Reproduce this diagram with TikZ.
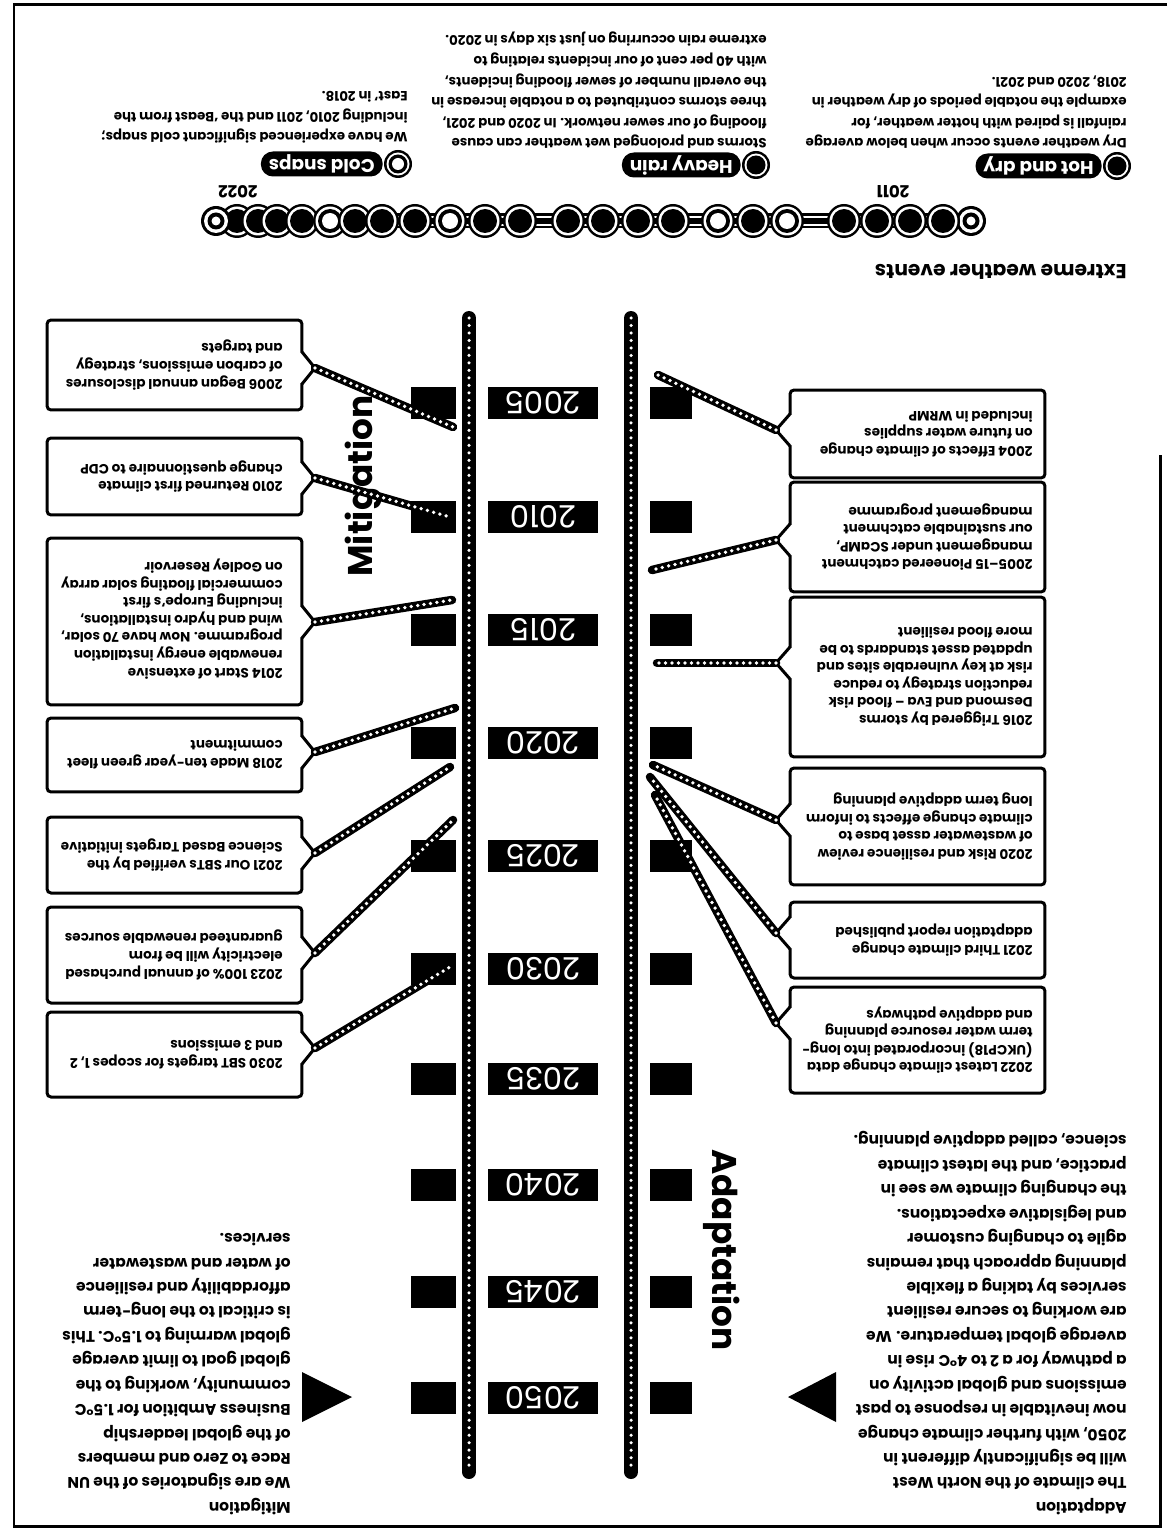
\documentclass[tikz,border=0pt]{standalone}
\usepackage{fontspec}
\setmainfont{Poppins}
\newcommand{\boxfnt}{\fontsize{7.7}{10.0}\selectfont\bfseries}
\newcommand{\topfnt}{\fontsize{7.6}{11.7}\selectfont\bfseries}
\newcommand{\parfnt}{\fontsize{8.8}{13.9}\selectfont\bfseries}
\tikzset{
  upsd/.style={rotate=180},
  rail/.style={line width=0.28cm, line cap=round},
  raildot/.style={line width=0.07cm, line cap=round, white, dash pattern=on 0pt off 0.15cm},
  chain/.style={line width=0.17cm, line cap=round},
  chaindot/.style={line width=0.075cm, line cap=round, white, dash pattern=on 0pt off 0.13cm},
  yearbox/.style={fill=black, text=white, rotate=180, minimum width=2.2cm, minimum height=0.64cm, inner sep=0pt, font=\fontsize{17.5}{17.5}\selectfont},
  sqr/.style={fill=black, inner sep=0pt, minimum height=0.64cm},
  frm/.style={draw, line width=0.06cm, rounded corners=0.08cm, inner sep=0pt, minimum width=5.1cm},
  btxt/.style={rotate=180, align=left, inner sep=0pt, anchor=west, font=\boxfnt},
  boxline/.style={line width=0.06cm, line join=round},
  para/.style={rotate=180, align=left, inner sep=0pt, anchor=north west},
  pill/.style={fill=black, text=white, rounded corners=0.24cm, rotate=180, inner xsep=0.16cm, inner ysep=0pt, minimum height=0.5cm, font=\fontsize{10.5}{10.5}\selectfont\bfseries},
  bigw/.style={font=\fontsize{19.5}{19.5}\selectfont\bfseries, inner sep=0pt},
  lbl/.style={rotate=180, inner sep=0pt, font=\fontsize{9.5}{9.5}\selectfont\bfseries},
}
\newcommand{\evF}[1]{\fill[black] (#1,221) circle (17); \fill[white] (#1,221) circle (14.5); \fill[black] (#1,221) circle (12);}
\newcommand{\evW}[1]{\fill[black] (#1,221) circle (17); \fill[white] (#1,221) circle (14.5); \fill[black] (#1,221) circle (12); \fill[white] (#1,221) circle (8);}
\newcommand{\evEnd}[1]{\fill[black] (#1,221) circle (15); \fill[white] (#1,221) circle (12); \fill[black] (#1,221) circle (8.5); \fill[white] (#1,221) circle (4.5);}
\newcommand{\ptr}[4]{%
  \fill[white] (#2,#4-15) -- (#1,#4-15) -- (#3,#4) -- (#1,#4+15) -- (#2,#4+15) -- cycle;
  \draw[boxline] (#1,#4-16) -- (#3,#4) -- (#1,#4+16);}
\newcommand{\chainln}[2]{\draw[chain] (#1) -- (#2); \draw[chaindot] (#1) -- (#2);}
\begin{document}
\begin{tikzpicture}[x=0.02cm, y=-0.02cm]
\useasboundingbox (0,0) rectangle (1167,1530);
\fill[white] (0,0) rectangle (1167,1530);
% frame
\draw[line width=0.06cm] (1167,5) -- (14,5) -- (14,1526) -- (1160,1526) -- (1160,455);

% ---------- extreme weather events ----------
\node[upsd, anchor=west, inner sep=0pt, font=\fontsize{11.5}{11.5}\selectfont\bfseries] (ewe) at (1127,272) {Extreme weather events};
\coordinate (tlL) at (216,221);
\coordinate (tlR) at (971,221);
\draw[line width=0.30cm, line cap=round] (tlL) -- (tlR);
\draw[line width=0.20cm, white] (tlL) -- (tlR);
\draw[line width=0.12cm] (tlL) -- (tlR);
\evEnd{971}
\evF{943}\evF{910}\evF{877}\evF{844}
\evW{787}\evF{753}\evW{718}
\evF{673}\evF{638}\evF{603}\evF{568}
\evF{237}\evF{258}\evF{277}\evF{302}\evW{330}\evF{355}\evF{382}\evF{415}\evW{450}\evF{485}\evF{520}
\evEnd{216}
\node[lbl] (y2011) at (893,192) {2011};
\node[lbl] (y2022) at (238,192) {2022};

% legend
\fill[black] (1117,166) circle (14); \fill[white] (1117,166) circle (11.5); \fill[black] (1117,166) circle (9.5);
\node[pill, anchor=west] (hd) at (1102,166) {Hot and dry};
\fill[black] (756,165) circle (14); \fill[white] (756,165) circle (11.5); \fill[black] (756,165) circle (9.5);
\node[pill, anchor=west] (hr) at (741,165) {Heavy rain};
\fill[black] (398,164) circle (14); \fill[white] (398,164) circle (11.5); \fill[black] (398,164) circle (9.5); \fill[white] (398,164) circle (6);
\node[pill, anchor=west] (cs) at (383,164) {Cold snaps};

\node[para, font=\topfnt] (hdp) at (1127,149) {Dry weather events occur when below average\\rainfall is paired with hotter weather, for\\example the notable periods of dry weather in\\2018, 2020 and 2021.};
\node[para, font=\topfnt] (hrp) at (767,149) {Storms and prolonged wet weather can cause\\flooding of our sewer network. In 2020 and 2021,\\three storms contributed to a notable increase in\\the overall number of sewer flooding incidents,\\with 40 per cent of our incidents relating to\\extreme rain occurring on just six days in 2020.};
\node[para, font=\topfnt] (csp) at (408,144) {We have experienced significant cold snaps;\\including 2010, 2011 and the ‘Beast from the\\East’ in 2018.};

% ---------- track ----------
\coordinate (lrT) at (469,318); \coordinate (lrB) at (469,1472);
\coordinate (rrT) at (631,318); \coordinate (rrB) at (631,1472);
\draw[rail] (lrT) -- (lrB); \draw[raildot] (lrT) -- (lrB);
\draw[rail] (rrT) -- (rrB); \draw[raildot] (rrT) -- (rrB);

\foreach \yr/\yy in {2005/403, 2010/517, 2015/630, 2020/743, 2025/856, 2030/969, 2035/1079, 2040/1185, 2045/1292, 2050/1398}{
  \node[yearbox] (yb\yr) at (543,\yy) {\yr};
  \node[sqr, minimum width=0.9cm] (ls\yr) at (433,\yy) {};
  \node[sqr, minimum width=0.84cm] (rs\yr) at (671,\yy) {};
}

\node[bigw, rotate=90] (mitw) at (363,486) {Mitigation};
\node[bigw, rotate=-90] (adaw) at (722,1250) {Adaptation};

% ---------- mitigation boxes ----------
\node[frm, minimum height=1.80cm] (m1) at (174.5,365) {};
\node[frm, minimum height=1.54cm] (m2) at (174.5,476.5) {};
\node[frm, minimum height=3.34cm] (m3) at (174.5,621.5) {};
\node[frm, minimum height=1.48cm] (m4) at (174.5,755) {};
\node[frm, minimum height=1.52cm] (m5) at (174.5,855) {};
\node[frm, minimum height=1.92cm] (m6) at (174.5,955) {};
\node[frm, minimum height=1.70cm] (m7) at (174.5,1054.5) {};
\node[btxt] (m1x) at (283,365) {2006 Began annual disclosures\\of carbon emissions, strategy\\and targets};
\node[btxt] (m2x) at (283,476.5) {2010 Returned first climate\\change questionnaire to CDP};
\node[btxt] (m3x) at (283,619) {2014 Start of extensive\\renewable energy installation\\programme. Now have 70 solar,\\wind and hydro installations,\\including Europe’s first\\commercial floating solar array\\on Godley Reservoir};
\node[btxt] (m4x) at (283,755) {2018 Made ten-year green fleet\\commitment};
\node[btxt] (m5x) at (283,855) {2021 Our SBTs verified by the\\Science Based Targets initiative};
\node[btxt] (m6x) at (283,955) {2023 100\% of annual purchased\\electricity will be from\\guaranteed renewable sources};
\node[btxt] (m7x) at (283,1054.5) {2030 SBT targets for scopes 1, 2\\and 3 emissions};

\ptr{302}{298}{315}{368}
\ptr{302}{298}{315}{478}
\ptr{302}{298}{315}{622}
\ptr{302}{298}{315}{752}
\ptr{302}{298}{315}{853}
\ptr{302}{298}{315}{953}
\ptr{302}{298}{315}{1048}

\coordinate (m1t) at (315,368);  \coordinate (m1e) at (453,427);
\coordinate (m2t) at (315,478);  \coordinate (m2e) at (450,517);
\coordinate (m3t) at (315,622);  \coordinate (m3e) at (452,600);
\coordinate (m4t) at (315,752);  \coordinate (m4e) at (455,708);
\coordinate (m5t) at (315,853);  \coordinate (m5e) at (450,767);
\coordinate (m6t) at (315,953);  \coordinate (m6e) at (453,820);
\coordinate (m7t) at (315,1048); \coordinate (m7e) at (450,967);
\chainln{m1t}{m1e}\chainln{m2t}{m2e}\chainln{m3t}{m3e}\chainln{m4t}{m4e}
\chainln{m5t}{m5e}\chainln{m6t}{m6e}\chainln{m7t}{m7e}

% ---------- adaptation boxes ----------
\node[frm, minimum height=1.76cm] (a1) at (917.5,434) {};
\node[frm, minimum height=2.20cm] (a2) at (917.5,537) {};
\node[frm, minimum height=3.20cm] (a3) at (917.5,677) {};
\node[frm, minimum height=2.34cm] (a4) at (917.5,826.5) {};
\node[frm, minimum height=1.52cm] (a5) at (917.5,940) {};
\node[frm, minimum height=2.12cm] (a6) at (917.5,1040) {};
\node[btxt] (a1x) at (1033,434) {2004 Effects of climate change\\on future water supplies\\included in WRMP};
\node[btxt] (a2x) at (1033,537) {2005–15 Pioneered catchment\\management under SCaMP,\\our sustainable catchment\\management programme};
\node[btxt] (a3x) at (1033,677) {2016 Triggered by storms\\Desmond and Eva – flood risk\\reduction strategy to reduce\\risk at key vulnerable sites and\\updated asset standards to be\\more flood resilient};
\node[btxt] (a4x) at (1033,826.5) {2020 Risk and resilience review\\of wastewater asset base to\\climate change effects to inform\\long term adaptive planning};
\node[btxt] (a5x) at (1033,940) {2021 Third climate change\\adaptation report published};
\node[btxt] (a6x) at (1033,1040) {2022 Latest climate change data\\(UKCP18) incorporated into long-\\term water resource planning\\and adaptive pathways};

\ptr{790}{794}{776}{430}
\ptr{790}{794}{776}{540}
\ptr{790}{794}{776}{663}
\ptr{790}{794}{776}{820}
\ptr{790}{794}{776}{933}
\ptr{790}{794}{776}{1023}

\coordinate (a1t) at (776,430);  \coordinate (a1e) at (658,375);
\coordinate (a2t) at (776,540);  \coordinate (a2e) at (652,570);
\coordinate (a3t) at (776,663);  \coordinate (a3e) at (657,663);
\coordinate (a4t) at (776,820);  \coordinate (a4e) at (653,765);
\coordinate (a5t) at (776,933);  \coordinate (a5e) at (650,777);
\coordinate (a6t) at (776,1023); \coordinate (a6e) at (655,795);
\chainln{a1t}{a1e}\chainln{a2t}{a2e}\chainln{a3t}{a3e}
\chainln{a4t}{a4e}\chainln{a5t}{a5e}\chainln{a6t}{a6e}

% ---------- bottom ----------
\fill (302,1372) -- (302,1422) -- (352,1397) -- cycle;
\fill (836,1372) -- (836,1422) -- (788,1397) -- cycle;

\node[para, font=\parfnt] (mp) at (291,1515) {Mitigation\\We are signatories of the UN\\Race to Zero and members\\of the global leadership\\Business Ambition for 1.5°C\\community, working to the\\global goal to limit average\\global warming to 1.5°C. This\\is critical to the long-term\\affordability and resilience\\of water and wastewater\\services.};
\node[para, font=\parfnt] (ap) at (1127,1515) {Adaptation\\The climate of the North West\\will be significantly different in\\2050, with further climate change\\now inevitable in response to past\\emissions and global activity on\\a pathway for a 2 to 4°C rise in\\average global temperature. We\\are working to secure resilient\\services by taking a flexible\\planning approach that remains\\agile to changing customer\\and legislative expectations.\\the changing climate we see in\\practice, and the latest climate\\science, called adaptive planning.};
\end{tikzpicture}
\end{document}
